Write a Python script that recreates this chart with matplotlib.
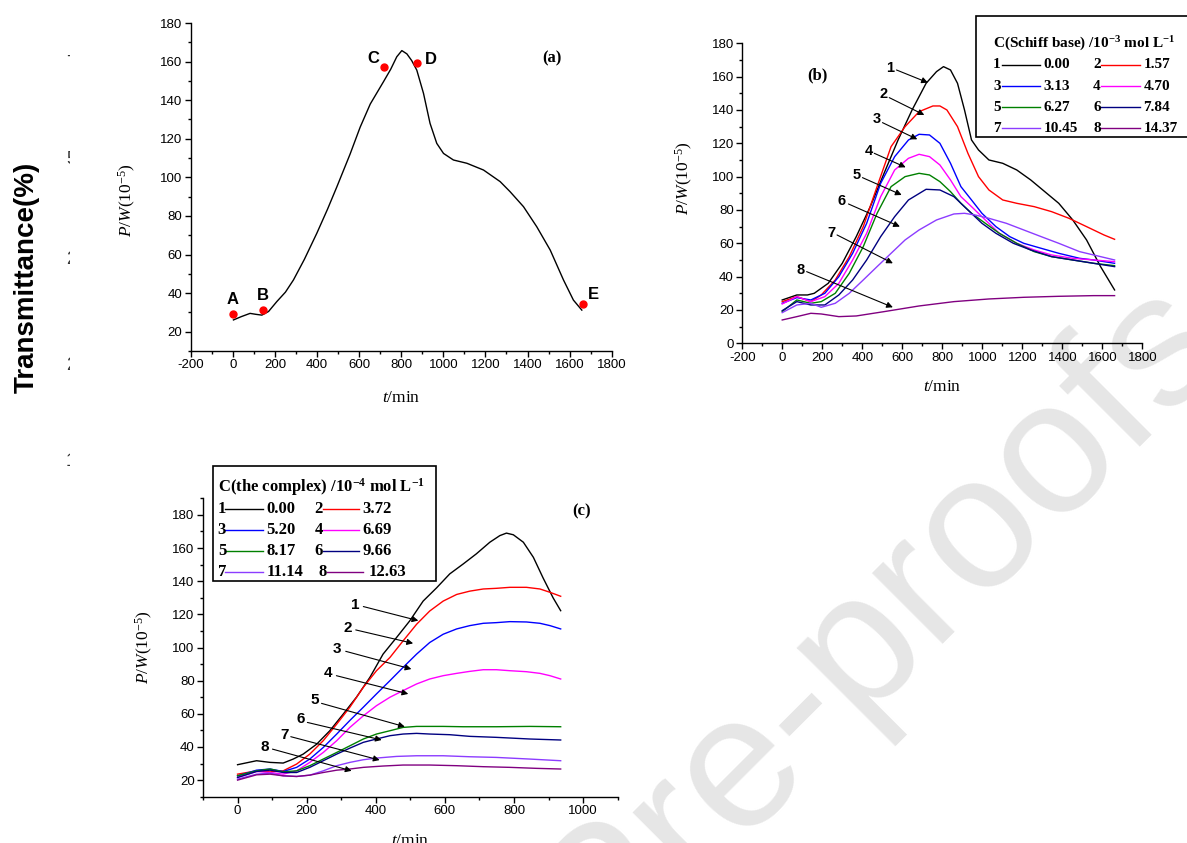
import numpy as np
import matplotlib
matplotlib.use('Agg')
import matplotlib.pyplot as plt
from matplotlib.lines import Line2D
from matplotlib.patches import Rectangle
from matplotlib.ticker import MultipleLocator

plt.rcParams['axes.unicode_minus'] = False
plt.rcParams['mathtext.fontset'] = 'custom'
plt.rcParams['mathtext.rm'] = 'Liberation Serif'
plt.rcParams['mathtext.it'] = 'Liberation Serif:italic'
plt.rcParams['mathtext.bf'] = 'Liberation Serif:bold'

W, H = 1187, 843

# ---------------- data ----------------
# (a) single run, P/W vs t
t_a = [3, 40, 82, 110, 138, 170, 209, 250, 288, 340, 399, 450, 494, 557, 605, 653, 716,
       750, 779, 803, 827, 850, 874, 906, 937, 969, 1001, 1048, 1112, 1191, 1270, 1317,
       1381, 1444, 1508, 1571, 1618, 1658]
pw_a = [26.1, 27.8, 29.5, 29.0, 28.6, 30.5, 35.6, 40.5, 46.8, 57.5, 71, 83.5, 95, 112, 126,
        138, 149.6, 156, 162.5, 165.7, 164, 160.5, 155.6, 143.5, 128, 117.6, 112.4, 109,
        107.3, 103.8, 97.8, 92.6, 84.8, 74.4, 62.3, 46.8, 36.4, 31.2]
pts_label = ['A', 'B', 'C', 'D', 'E']
pts_t = [0, 143, 720, 877, 1666]
pts_pw = [29, 31, 157.4, 159.1, 34.2]

# (b) Schiff base series
b_conc = ['0.00', '1.57', '3.13', '4.70', '6.27', '7.84', '10.45', '14.37']
b_t = [
    [0, 73, 126, 160, 230, 300, 370, 440, 509, 579, 649, 719, 771, 806, 841, 876, 911, 946,
     981, 1033, 1102, 1172, 1242, 1312, 1382, 1452, 1521, 1591, 1661],
    [0, 73, 143, 195, 265, 335, 405, 474, 544, 614, 684, 753, 788, 823, 876, 928, 981, 1033,
     1102, 1172, 1259, 1346, 1433, 1521, 1608, 1661],
    [0, 73, 143, 213, 283, 352, 422, 492, 562, 631, 684, 736, 788, 841, 893, 946, 998, 1068,
     1137, 1207, 1294, 1382, 1486, 1556, 1661],
    [0, 73, 143, 213, 283, 352, 422, 492, 562, 631, 684, 736, 788, 841, 893, 946, 1015, 1085,
     1172, 1259, 1346, 1451, 1556, 1661],
    [0, 73, 143, 195, 265, 335, 405, 474, 544, 614, 684, 736, 788, 841, 893, 946, 1015, 1085,
     1172, 1259, 1346, 1451, 1556, 1661],
    [0, 73, 143, 213, 283, 352, 422, 492, 562, 631, 719, 788, 858, 928, 998, 1068, 1155, 1242,
     1346, 1451, 1556, 1661],
    [0, 73, 143, 195, 265, 335, 405, 474, 544, 614, 684, 771, 858, 911, 963, 1033, 1120, 1207,
     1294, 1382, 1486, 1556, 1661],
    [0, 73, 143, 195, 283, 370, 509, 684, 858, 1033, 1207, 1382, 1556, 1661],
]
b_pw = [
    [26, 29, 29, 30, 36, 48, 64, 82, 102, 122, 140, 156, 163, 166, 164, 156, 140, 122, 116,
     110, 108, 104, 98, 91, 84, 74, 62, 46, 32],
    [25, 28, 25, 29, 38, 52, 70, 94, 118, 130, 139, 142.4, 142.4, 140, 130, 114, 100, 92, 86,
     84, 82, 79, 75, 70, 65, 62.4],
    [24, 27.4, 26, 30, 40, 54, 72, 96, 112, 122, 125.4, 125, 120, 108, 94, 86, 78, 70, 64, 60,
     57, 54, 51, 50, 48],
    [23.6, 28, 25, 28, 36, 50, 66, 88, 104, 111, 113.4, 112, 107, 98, 88, 82, 74, 66, 60, 56,
     53, 51, 50, 49],
    [19, 26, 24, 25, 30, 42, 58, 78, 94, 100, 102, 101, 97, 91, 84, 78, 72, 66, 60, 55, 52,
     50, 48, 46.6],
    [19.6, 25, 23, 23, 29, 38, 50, 64, 76, 86, 92.4, 92, 88, 80, 72, 66, 60, 56, 52, 50, 48,
     46],
    [18.4, 23, 24, 21.6, 24, 30, 38, 46, 54, 62, 68, 74, 77.6, 78, 77, 75, 72, 68, 64, 60, 55,
     53, 50],
    [14, 16, 18, 17.6, 16, 16.4, 19, 22.4, 25, 26.6, 27.6, 28.2, 28.6, 28.6],
]
# label position, arrow start, arrow end (t, P/W)
b_lab = [(539, 165.4), (504, 149.4), (471, 134.6), (431, 115.4), (373, 101), (297, 85.4),
         (244, 66.4), (91, 44)]
b_arr0 = [(571, 164), (535, 147.4), (501, 132.4), (460, 114), (401, 99.4), (331, 83.6),
          (274, 65), (122, 43)]
b_arr1 = [(728, 156.4), (710, 137), (675, 122.4), (617, 105.6), (597, 89), (588, 70),
          (553, 48), (553, 21.6)]

# (c) complex series
c_conc = ['0.00', '3.72', '5.20', '6.69', '8.17', '9.66', '11.14', '12.63']
c_t = [
    [0, 55, 94, 132, 161, 190, 229, 267, 306, 344, 383, 421, 460, 498, 537, 576, 614, 653,
     691, 730, 759, 778, 798, 827, 856, 884, 913, 935],
    [0, 55, 94, 132, 171, 209, 248, 287, 325, 364, 402, 441, 479, 518, 556, 595, 634, 672,
     711, 749, 788, 836, 875, 904, 935],
    [0, 55, 94, 132, 171, 209, 248, 287, 325, 364, 402, 441, 479, 518, 556, 595, 634, 672,
     711, 749, 788, 836, 875, 904, 935],
    [0, 55, 94, 132, 171, 209, 248, 287, 325, 364, 402, 441, 479, 518, 556, 595, 634, 672,
     711, 749, 788, 836, 875, 904, 935],
    [0, 55, 94, 132, 171, 209, 248, 287, 325, 364, 402, 441, 479, 518, 556, 595, 653, 749,
     846, 935],
    [0, 55, 94, 132, 171, 209, 248, 287, 325, 364, 402, 441, 479, 518, 556, 614, 672, 749,
     846, 935],
    [0, 55, 94, 132, 171, 209, 248, 287, 325, 364, 402, 460, 518, 595, 672, 749, 846, 935],
    [0, 55, 94, 132, 171, 209, 248, 287, 325, 364, 421, 479, 556, 634, 711, 788, 865, 935],
]
c_pw = [
    [29.3, 31.7, 30.7, 30.3, 32.7, 35.7, 41.7, 49.8, 59.9, 70, 82, 96, 106, 116, 128, 136,
     144.4, 150.4, 156.5, 163.5, 167.5, 169, 168, 163.5, 154.4, 142, 130, 122.2],
    [23.6, 25.6, 25, 25.6, 29.7, 35.7, 43.8, 53.8, 64, 76, 86, 94, 104, 114, 122, 128, 132,
     134, 135.3, 135.7, 136.3, 136.3, 135.3, 133.3, 130.9],
    [22.6, 26, 26.7, 25.2, 27.7, 32.7, 39.7, 47.8, 56, 64, 72, 80, 88, 96, 103, 108, 111.2,
     113.2, 114.6, 115, 115.6, 115.4, 114.6, 113.2, 111.2],
    [21.6, 25.2, 24.6, 23.6, 25.6, 30.7, 36.7, 43.8, 51.8, 58.8, 64.9, 70, 74, 78, 81, 83,
     84.4, 85.6, 86.6, 86.6, 86, 85.4, 84.4, 83, 81],
    [22.6, 25.6, 26.7, 25, 25.6, 28.7, 32.7, 36.7, 40.7, 44.8, 47.8, 49.8, 51.8, 52.4, 52.4,
     52.4, 52.2, 52.2, 52.4, 52.2],
    [21.6, 25.2, 26, 24.6, 24.6, 27.7, 31.7, 35.7, 39.3, 42.8, 44.8, 46.8, 47.8, 48.2, 47.8,
     47.4, 46.4, 45.8, 44.8, 44.2],
    [20.6, 23.6, 24.2, 22.6, 22.2, 23, 25.6, 28.7, 30.7, 32.3, 33.3, 34.3, 34.7, 34.7, 34.1,
     33.7, 32.7, 31.7],
    [20, 23.2, 23.6, 22.6, 22.2, 23, 24.6, 26, 26.7, 27.7, 28.5, 29.1, 29.1, 28.7, 28.1, 27.7,
     27.1, 26.7],
]
c_lab = [(342, 125.7), (320, 111.6), (288, 99), (262, 84.4), (222, 68.3), (183, 56.8),
         (135, 47.4), (79, 40)]
c_arr0 = [(364, 124.7), (342, 110.6), (313, 97.7), (286, 83), (243, 66.3), (202, 54.8),
          (154, 46.2), (101, 38.7)]
c_arr1 = [(523, 116.2), (508, 102.5), (503, 87), (494, 72), (484, 52.2), (417, 44.2),
          (411, 32.1), (330, 25.6)]

colors = ['#000000', '#ff0000', '#0000ff', '#ff00ff', '#008000', '#000080', '#8c3cff', '#800080']


def fx(px):
    return px / W


def fy(py):
    return 1 - py / H


def style_axes(ax, xlim, ylim):
    ax.set_facecolor('none')
    ax.set_xlim(*xlim)
    ax.set_ylim(*ylim)
    for s in ['top', 'right']:
        ax.spines[s].set_visible(False)
    for s in ['left', 'bottom']:
        ax.spines[s].set_linewidth(1.0)
    ax.xaxis.set_major_locator(MultipleLocator(200))
    ax.xaxis.set_minor_locator(MultipleLocator(100))
    ax.yaxis.set_major_locator(MultipleLocator(20))
    ax.yaxis.set_minor_locator(MultipleLocator(10))
    ax.tick_params(which='major', direction='out', length=4, width=1.0,
                   labelsize=9.5, pad=2)
    ax.tick_params(which='minor', direction='out', length=2.3, width=1.0)
    for lab in ax.get_xticklabels() + ax.get_yticklabels():
        lab.set_family('Liberation Sans')
    ax.set_xlabel(r'$\mathit{t}$/min', fontsize=12.5, family='Liberation Serif')
    ax.set_ylabel(r'$\mathit{P}$/$\mathit{W}$(10$^{-5}$)', fontsize=12.5,
                  family='Liberation Serif')


fig = plt.figure(figsize=(W / 100, H / 100), dpi=100)
fig.patch.set_facecolor('white')

# watermark
fig.text(fx(915), fy(656), 'Pre-proofs', rotation=45, rotation_mode='anchor',
         ha='center', va='baseline', fontsize=137, family='Liberation Sans',
         color='#e6e6e6', zorder=-5)

# left strip remnants
fig.text(fx(27), fy(277), 'Transmittance(%)', rotation=90, ha='center', va='center',
         fontsize=20, fontweight='bold', family='Liberation Sans')
ax_strip = fig.add_axes([0, 0, fx(70), 1])
ax_strip.set_axis_off()
for yy, d in zip([63, 160, 260, 365, 462], ['7', '5', '2', '2', '1']):
    ax_strip.text(fx(66) / fx(70), fy(yy), d, transform=ax_strip.transAxes,
                  ha='left', va='center', fontsize=13, color='#333333',
                  family='Liberation Sans', clip_on=True)

# ---------------- panel (a) ----------------
ax_a = fig.add_axes([fx(190.7), fy(351), fx(611.7) - fx(190.7), fy(23) - fy(351)])
style_axes(ax_a, (-200, 1800), (10, 180))
ax_a.plot(t_a, pw_a, color='black', lw=1.0)
ax_a.plot(pts_t, pts_pw, 'o', color='red', ms=5, mec='red')
offs = [(0, 10.8), (0, 10.8), (-8.1, 5.5), (9.6, 2.4), (7.2, 7.4)]
for lab, xx, yy, o in zip(pts_label, pts_t, pts_pw, offs):
    ax_a.annotate(lab, (xx, yy), xytext=o, textcoords='offset points', ha='center',
                  va='center', fontsize=12, fontweight='bold', family='Liberation Sans')
ax_a.text(1515, 161.7, '(a)', ha='center', va='center', fontsize=12, fontweight='bold',
          family='Liberation Serif')
ax_a.xaxis.set_label_coords(0.5, -0.12)
ax_a.yaxis.set_label_coords(-0.125, 0.46)

# ---------------- panel (b) ----------------
ax_b = fig.add_axes([fx(742.2), fy(343.3), fx(1142.4) - fx(742.2), fy(43.3) - fy(343.3)])
style_axes(ax_b, (-200, 1800), (0, 180))
for i in range(8):
    ax_b.plot(b_t[i], b_pw[i], color=colors[i], lw=1.0)
for i in range(8):
    ax_b.annotate('', xy=b_arr1[i], xytext=b_arr0[i],
                  arrowprops=dict(arrowstyle='-|>', color='black', lw=0.8,
                                  mutation_scale=9, shrinkA=0, shrinkB=0))
    ax_b.text(b_lab[i][0], b_lab[i][1], str(i + 1), ha='center', va='center',
              fontsize=10.5, fontweight='bold', family='Liberation Sans')
ax_b.text(174, 161, '(b)', ha='center', va='center', fontsize=12, fontweight='bold',
          family='Liberation Serif')
ax_b.xaxis.set_label_coords(0.5, -0.12)
ax_b.yaxis.set_label_coords(-0.118, 0.55)

# ---------------- panel (c) ----------------
ax_c = fig.add_axes([fx(203), fy(796.7), fx(617.7) - fx(203), fy(498.3) - fy(796.7)])
style_axes(ax_c, (-100, 1100), (10, 190))
for i in range(8):
    ax_c.plot(c_t[i], c_pw[i], color=colors[i], lw=1.0)
for i in range(8):
    ax_c.annotate('', xy=c_arr1[i], xytext=c_arr0[i],
                  arrowprops=dict(arrowstyle='-|>', color='black', lw=0.8,
                                  mutation_scale=9, shrinkA=0, shrinkB=0))
    ax_c.text(c_lab[i][0], c_lab[i][1], str(i + 1), ha='center', va='center',
              fontsize=11, fontweight='bold', family='Liberation Sans')
ax_c.text(995, 182.2, '(c)', ha='center', va='center', fontsize=12, fontweight='bold',
          family='Liberation Serif')
ax_c.xaxis.set_label_coords(0.5, -0.12)
ax_c.yaxis.set_label_coords(-0.116, 0.5)


# ---------------- hand-made legends ----------------
def draw_legend(box, title, title_xy, rows_y, cols, conc, fs):
    x0, y0, x1, y1 = box
    fig.patches.append(Rectangle((fx(x0), fy(y1)), fx(x1) - fx(x0), fy(y0) - fy(y1),
                                 transform=fig.transFigure, facecolor='white',
                                 edgecolor='black', lw=1.2, zorder=5))
    fig.text(fx(title_xy[0]), fy(title_xy[1]), title, ha='left', va='center',
             fontsize=fs, fontweight='bold', family='Liberation Serif', zorder=6)
    for k in range(8):
        r, c = divmod(k, 2)
        nx, lx0, lx1, vx = cols[c] if not (r == 3 and c == 1 and len(cols) > 2) else cols[2]
        yy = rows_y[r]
        fig.text(fx(nx), fy(yy), str(k + 1), ha='center', va='center', fontsize=fs,
                 fontweight='bold', family='Liberation Serif', zorder=6)
        fig.lines.append(Line2D([fx(lx0), fx(lx1)], [fy(yy), fy(yy)],
                                transform=fig.transFigure, color=colors[k], lw=1.0,
                                zorder=6))
        fig.text(fx(vx), fy(yy), conc[k], ha='left', va='center', fontsize=fs,
                 fontweight='bold', family='Liberation Serif', zorder=6)


draw_legend((975.7, 15.7, 1200, 136.7),
            r'C(Schiff base) /10$^{\mathbf{-3}}$ mol L$^{\mathbf{-1}}$', (993, 44),
            [65, 86, 107.3, 128.3],
            [(997, 1001.7, 1040, 1043.3), (1097, 1100.5, 1140, 1143.3)], b_conc, 11)
draw_legend((212.7, 466, 435.7, 580.7),
            r'C(the complex) /10$^{\mathbf{-4}}$ mol L$^{\mathbf{-1}}$', (218.3, 487),
            [509, 530, 551, 572],
            [(222, 225, 262.7, 266.7), (318.5, 322.7, 359, 362.7),
             (323, 327, 363, 368.3)], c_conc, 12)

fig.savefig('out.png', dpi=100, facecolor='white')
